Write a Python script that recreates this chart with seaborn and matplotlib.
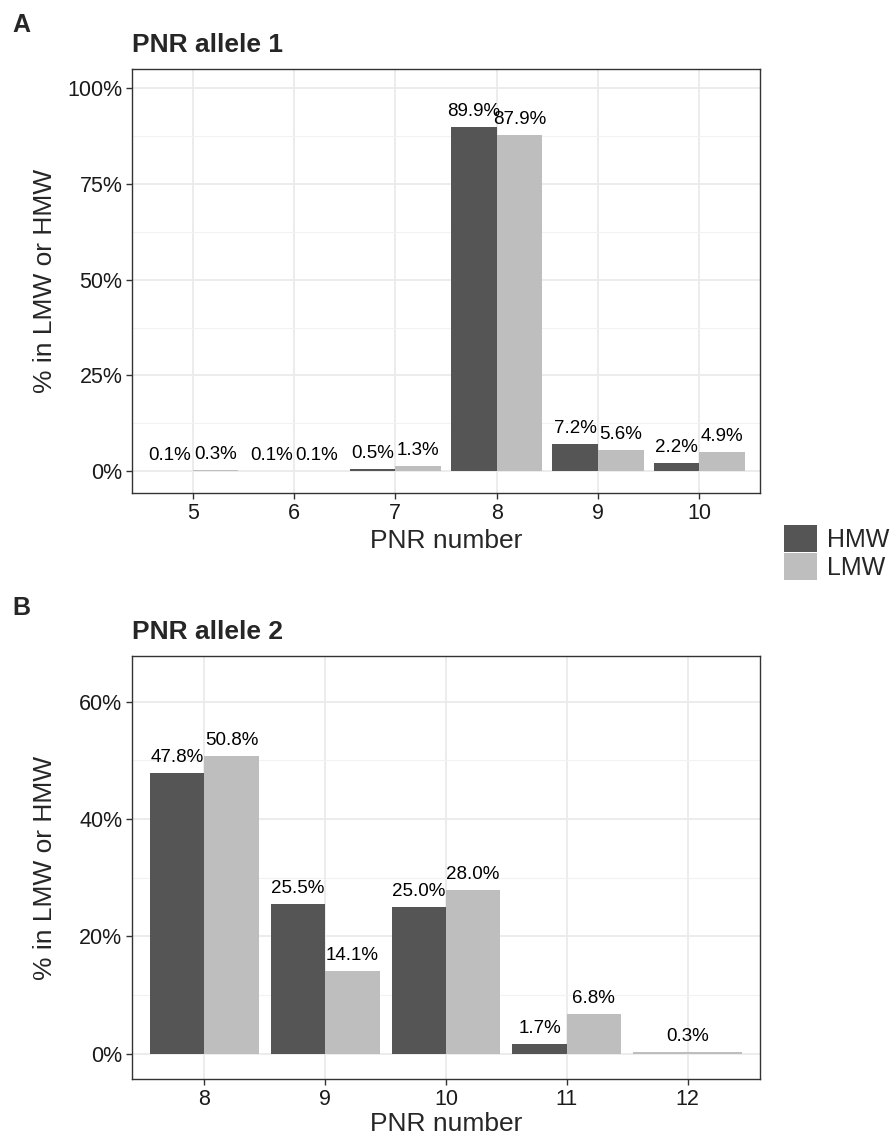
import numpy as np
import pandas as pd
import seaborn as sns
import matplotlib.pyplot as plt
from matplotlib.patches import Patch
from matplotlib.ticker import FixedLocator, FuncFormatter

sns.set_style('white')
plt.rcParams['font.family'] = ['Liberation Sans', 'DejaVu Sans']

# data (% in LMW or HMW)
pnr_a = [5, 6, 7, 8, 9, 10]
hmw_a = [0.1, 0.1, 0.5, 89.9, 7.2, 2.2]
lmw_a = [0.3, 0.1, 1.3, 87.9, 5.6, 4.9]

pnr_b = [8, 9, 10, 11, 12]
hmw_b = [47.8, 25.5, 25.0, 1.7, np.nan]
lmw_b = [50.8, 14.1, 28.0, 6.8, 0.3]

groups = ['HMW', 'LMW']
colors = {'HMW': '#555555', 'LMW': '#BEBEBE'}


def draw_panel(ax, pnr, hmw, lmw, title, ylim, major, minor, xpad=4):
    n = len(pnr)
    df = pd.DataFrame({'pnr': [str(p) for p in pnr] * 2,
                       'group': ['HMW'] * n + ['LMW'] * n,
                       'pct': list(hmw) + list(lmw)}).dropna()
    order = [str(p) for p in pnr]
    counts = df.groupby('pnr')['group'].transform('count')
    paired = df[counts == 2]
    single = df[counts == 1]

    sns.barplot(data=paired, x='pnr', y='pct', hue='group', order=order,
                hue_order=groups, palette=colors, width=0.9, saturation=1,
                errorbar=None, legend=False, linewidth=0, ax=ax, zorder=3)
    # categories with only one group get a full-width bar (as in ggplot dodge)
    for grp, sub in single.groupby('group'):
        sns.barplot(data=sub, x='pnr', y='pct', order=order, color=colors[grp],
                    width=0.9, saturation=1, errorbar=None, linewidth=0,
                    ax=ax, zorder=3)

    for c in ax.containers:
        ax.bar_label(c, fmt='%.1f%%', padding=5, fontsize=13.5, color='black')

    ax.set_xlim(-0.6, n - 0.4)
    ax.set_ylim(*ylim)
    ax.yaxis.set_major_locator(FixedLocator(major))
    ax.yaxis.set_minor_locator(FixedLocator(minor))
    ax.yaxis.set_major_formatter(FuncFormatter(lambda v, p: f'{v:.0f}%'))

    ax.grid(which='major', color='#EBEBEB', lw=1.3, zorder=0)
    ax.grid(which='minor', axis='y', color='#F2F2F2', lw=0.8, zorder=0)
    ax.set_axisbelow(True)
    for s in ax.spines.values():
        s.set_color('#333333')
        s.set_linewidth(1.0)
    ax.tick_params(which='major', direction='out', length=4, width=1,
                   color='#333333', labelsize=15.5, labelcolor='#1a1a1a', pad=3,
                   left=True, bottom=True)
    ax.tick_params(which='minor', length=0)

    ax.set_xlabel('PNR number', fontsize=19, labelpad=xpad)
    ax.set_ylabel('% in LMW or HMW', fontsize=19)
    ax.yaxis.set_label_coords(-0.12, 0.5)
    ax.set_title(title, loc='left', fontsize=19, fontweight='bold', pad=12)


fig = plt.figure(figsize=(8.96, 11.37), dpi=100)
ax_a = fig.add_axes([0.1473, 0.5664, 0.7009, 0.3729])
ax_b = fig.add_axes([0.1473, 0.0510, 0.7009, 0.3720])

draw_panel(ax_a, pnr_a, hmw_a, lmw_a, 'PNR allele 1', (-5.7, 105),
           [0, 25, 50, 75, 100], [12.5, 37.5, 62.5, 87.5])
draw_panel(ax_b, pnr_b, hmw_b, lmw_b, 'PNR allele 2', (-4.3, 67.8),
           [0, 20, 40, 60], [10, 30, 50], xpad=1.5)

fig.text(0.0134, 0.9719, 'A', fontsize=18, fontweight='bold', va='baseline')
fig.text(0.0134, 0.4591, 'B', fontsize=18, fontweight='bold', va='baseline')

handles = [Patch(facecolor=colors[g], edgecolor='none') for g in groups]
fig.legend(handles, groups, loc='center left', bbox_to_anchor=(0.875, 0.514),
           frameon=False, fontsize=18, handlelength=1.3, handleheight=1.3,
           handletextpad=0.4, labelspacing=0.05, borderaxespad=0, borderpad=0)

fig.savefig('out.png', dpi=100)
